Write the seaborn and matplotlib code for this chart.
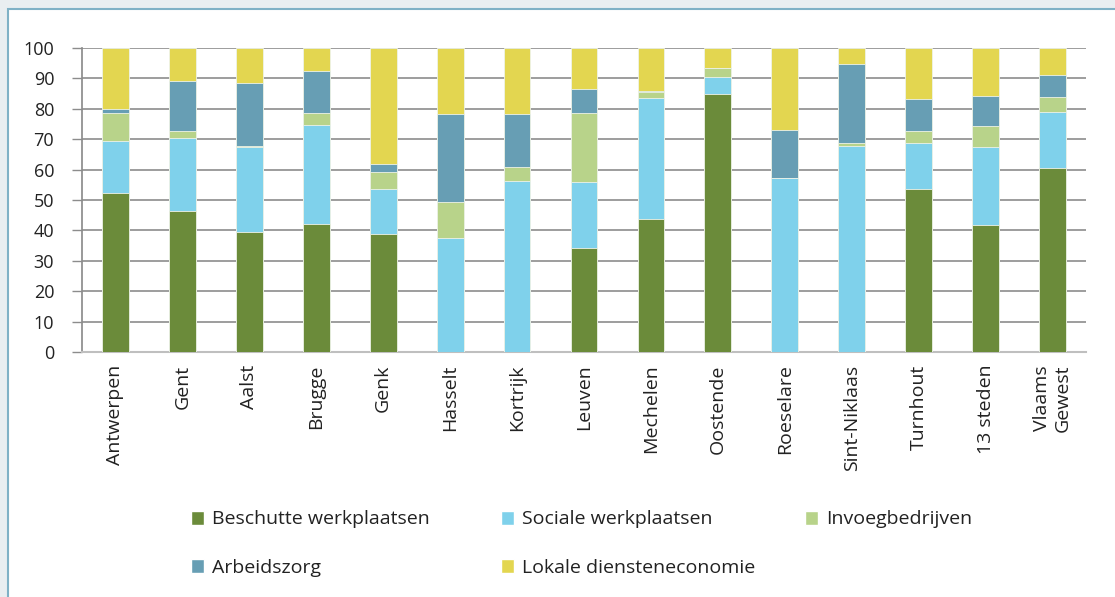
import numpy as np
import pandas as pd
import seaborn as sns
import matplotlib.pyplot as plt
from matplotlib.patches import Rectangle, Patch

steden = ['Antwerpen', 'Gent', 'Aalst', 'Brugge', 'Genk', 'Hasselt', 'Kortrijk',
          'Leuven', 'Mechelen', 'Oostende', 'Roeselare', 'Sint-Niklaas',
          'Turnhout', '13 steden', 'Vlaams\nGewest']

beschutte = [52.3, 46.3, 39.5, 42.1, 38.8, 0, 0, 34.1, 43.8, 84.9, 0, 0, 53.5, 41.8, 60.5]
sociale = [17.1, 24.2, 27.9, 32.5, 14.9, 37.6, 56.3, 21.9, 39.6, 5.5, 57.2, 67.9, 15.3, 25.5, 18.6]
invoeg = [9.2, 2.2, 0.2, 4.0, 5.4, 11.7, 4.5, 22.5, 2.2, 3.0, 0, 0.7, 3.8, 7.0, 4.8]
arbeidszorg = [1.2, 16.4, 20.9, 13.7, 2.6, 29.0, 17.5, 8.1, 0.2, 0, 15.7, 26.1, 10.5, 9.9, 7.2]
lokale = [20.2, 10.9, 11.5, 7.7, 38.3, 21.7, 21.7, 13.4, 14.2, 6.6, 27.1, 5.3, 16.9, 15.8, 8.9]

reeksen = ['Beschutte werkplaatsen', 'Sociale werkplaatsen', 'Invoegbedrijven',
           'Arbeidszorg', 'Lokale diensteneconomie']
kleuren = ['#6b8b3a', '#7fd1eb', '#b8d38a', '#679eb4', '#e3d650']

df = pd.DataFrame({'stad': steden, reeksen[0]: beschutte, reeksen[1]: sociale,
                   reeksen[2]: invoeg, reeksen[3]: arbeidszorg, reeksen[4]: lokale})
cum = df[reeksen].cumsum(axis=1)

sns.set_theme(style='white')
plt.rcParams['font.family'] = ['Open Sans', 'DejaVu Sans']

fig = plt.figure(figsize=(11.15, 5.97), dpi=100, facecolor='#e9eef1')
fig.patches.append(Rectangle((8 / 1115, -0.01), 1, 1.01 - 9 / 597, transform=fig.transFigure,
                             facecolor='white', edgecolor='#7fb1c6', linewidth=1.5, zorder=-5))
ax = fig.add_axes([82 / 1115, 1 - 352 / 597, 1004 / 1115, 304 / 597])
ax.patch.set_alpha(0)

# stacked by overlaying cumulative totals, top series first
for i in range(len(reeksen) - 1, -1, -1):
    sns.barplot(x=df['stad'], y=cum[reeksen[i]], color=kleuren[i], width=0.4,
                saturation=1, ax=ax, linewidth=0.6, edgecolor='#eef3e8', zorder=3)

ax.set_xlim(-0.5, len(steden) - 0.5)
ax.set_ylim(0, 100)
ax.set_yticks(np.arange(0, 101, 10))
ax.yaxis.grid(True, color='#8c8c8c', linewidth=1.2, zorder=0)
ax.set_axisbelow(True)
ax.set_xlabel('')
ax.set_ylabel('')

for s in ['top', 'right']:
    ax.spines[s].set_visible(False)
ax.spines['left'].set_color('#8c8c8c')
ax.spines['bottom'].set_color('#bfbfbf')
ax.spines['bottom'].set_linewidth(1.5)

ax.set_xticks(np.arange(-0.5, len(steden), 1), minor=True)
ax.tick_params(axis='x', which='minor', length=7, color='#999999', width=1)
ax.tick_params(axis='x', which='major', length=0, pad=9, labelsize=14,
               labelrotation=90, labelcolor='#222222')
ax.tick_params(axis='y', length=7, color='#8c8c8c', width=1, pad=13,
               labelsize=13, labelcolor='#222222', left=True)
for lab in ax.get_xticklabels():
    lab.set_verticalalignment('top')
    lab.set_multialignment('center')

# one legend per column, so the columns sit where they do in the original
kolommen = [([0, 3], 173), ([1, 4], 483), ([2], 787)]
for idx, xpos in kolommen:
    handles = [Patch(facecolor=kleuren[i], label=reeksen[i]) for i in idx]
    fig.legend(handles=handles, loc='upper left',
               bbox_to_anchor=(xpos / 1115, 1 - 493 / 597), frameon=False,
               fontsize=14, handlelength=0.7, handleheight=0.7,
               handletextpad=0.4, labelspacing=1.55, labelcolor='#222222')

fig.savefig('out.png', dpi=100, facecolor=fig.get_facecolor())
